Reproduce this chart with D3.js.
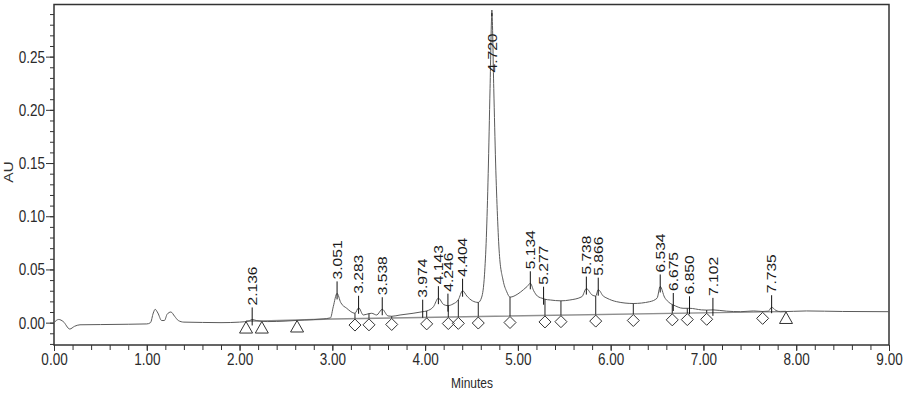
<!DOCTYPE html>
<html><head><meta charset="utf-8">
<script src="https://cdn.jsdelivr.net/npm/d3@7"></script>
<style>
html,body{margin:0;padding:0;background:#fff;}
svg{display:block;font-family:"Liberation Sans",Arial,sans-serif;}
</style></head><body>
<svg id="c" width="912" height="401"></svg>
<script>
// ---- data ----
const traceTime = [0.00,0.05,0.10,0.17,0.22,0.28,0.50,0.80,1.00,1.04,1.07,1.09,1.12,1.16,1.19,1.22,1.26,1.30,1.34,1.40,1.60,1.80,2.00,2.10,2.136,2.18,2.30,2.50,2.70,2.90,2.98,3.01,3.051,3.09,3.155,3.244,3.283,3.334,3.395,3.424,3.478,3.538,3.60,3.64,3.73,3.87,3.974,4.017,4.09,4.143,4.20,4.246,4.30,4.358,4.404,4.45,4.51,4.573,4.61,4.64,4.66,4.68,4.70,4.72,4.74,4.76,4.78,4.80,4.84,4.88,4.915,5.00,5.06,5.10,5.134,5.17,5.21,5.277,5.292,5.35,5.464,5.56,5.69,5.738,5.80,5.839,5.866,5.92,5.96,6.065,6.244,6.42,6.50,6.534,6.58,6.62,6.664,6.675,6.78,6.826,6.85,6.98,7.035,7.102,7.25,7.40,7.54,7.638,7.70,7.735,7.78,7.83,8.11,8.50,9.00];
const traceAU = [0.0000,0.0030,0.0010,-0.0060,-0.0035,-0.0020,-0.0018,-0.0015,-0.0012,0.0000,0.0090,0.0125,0.0090,0.0020,0.0020,0.0080,0.0100,0.0060,0.0020,0.0005,0.0002,0.0000,0.0005,0.0015,0.0030,0.0020,0.0010,0.0015,0.0025,0.0035,0.0045,0.0150,0.0275,0.0190,0.0135,0.0088,0.0140,0.0072,0.0085,0.0088,0.0072,0.0126,0.0063,0.0060,0.0072,0.0088,0.0103,0.0110,0.0150,0.0230,0.0170,0.0160,0.0175,0.0215,0.0300,0.0250,0.0205,0.0190,0.0240,0.0450,0.0800,0.1400,0.2200,0.2910,0.2200,0.1500,0.1000,0.0650,0.0400,0.0290,0.0240,0.0270,0.0310,0.0340,0.0370,0.0300,0.0250,0.0225,0.0220,0.0213,0.0205,0.0213,0.0244,0.0320,0.0260,0.0250,0.0310,0.0250,0.0230,0.0197,0.0180,0.0197,0.0230,0.0340,0.0240,0.0197,0.0170,0.0166,0.0135,0.0135,0.0135,0.0120,0.0118,0.0120,0.0108,0.0103,0.0110,0.0105,0.0108,0.0145,0.0115,0.0103,0.0110,0.0105,0.0103];
const peakLabels = ["2.136","3.051","3.283","3.538","3.974","4.143","4.246","4.404","4.720","5.134","5.277","5.738","5.866","6.534","6.675","6.850","7.102","7.735"];
const dropTimes = [3.244,3.395,3.64,4.017,4.25,4.358,4.573,4.915,5.292,5.464,5.839,6.244,6.664,6.826,7.035,7.638];
const startEndTimes = [2.07,2.24,2.62,7.89];
const baselineTime = [2.07,2.24,2.62,3.00,7.89];
const baselineAU = [0.0015,0.0015,0.0025,0.0035,0.0105];
const xTickValues = [0,1,2,3,4,5,6,7,8,9];
const yTickValues = [0,0.05,0.10,0.15,0.20,0.25];

// ---- layout ----
const L = 54, R = 889, T = 4.5, B = 345;
const svg = d3.select("#c");
const x = d3.scaleLinear().domain([0,9]).range([L,R]);
const y = d3.scaleLinear().domain([-0.021,0.299]).range([B,T]);
const STRETCH = 1.2;

function valueAt(ts, vs, t){
  const i = d3.bisectLeft(ts, t);
  if (i <= 0) return vs[0];
  if (i >= ts.length) return vs[vs.length-1];
  if (Math.abs(ts[i]-t) < 1e-9) return vs[i];
  const t0 = ts[i-1], t1 = ts[i];
  return vs[i-1] + (vs[i]-vs[i-1])*(t-t0)/(t1-t0);
}
const traceAt = t => valueAt(traceTime, traceAU, t);
const baseAt = t => valueAt(baselineTime, baselineAU, t);

// ---- axes ----
const yMinor = d3.range(-2, 30).map(d => d/100);
svg.append("g").attr("transform",`translate(${L},0)`)
  .call(d3.axisLeft(y).tickValues(yMinor).tickSize(4).tickFormat(""))
  .call(g => g.select(".domain").remove())
  .selectAll("line").attr("stroke","#333");
const gy = svg.append("g").attr("transform",`translate(${L},0)`)
  .call(d3.axisLeft(y).tickValues(yTickValues).tickSize(8).tickPadding(1).tickFormat(d3.format(".2f")));
gy.select(".domain").remove();
gy.selectAll("line").attr("stroke","#333");
gy.selectAll("text").attr("font-size",13.5).attr("fill","#2a2a2a")
  .attr("font-family","Liberation Sans, Arial, sans-serif")
  .attr("dy",null).attr("dominant-baseline","central")
  .attr("transform",`scale(1,${STRETCH})`);

const xMinor = d3.range(0, 46).map(d => d/5);
svg.append("g").attr("transform",`translate(0,${B})`)
  .call(d3.axisBottom(x).tickValues(xMinor).tickSize(5).tickFormat(""))
  .call(g => g.select(".domain").remove())
  .selectAll("line").attr("stroke","#333");
const gx = svg.append("g").attr("transform",`translate(0,${B})`)
  .call(d3.axisBottom(x).tickValues(xTickValues).tickSize(6).tickFormat(d3.format(".2f")));
gx.select(".domain").remove();
gx.selectAll("line").attr("stroke","#333");
gx.selectAll("text").attr("font-size",13.5).attr("fill","#2a2a2a")
  .attr("font-family","Liberation Sans, Arial, sans-serif")
  .attr("y", 15/STRETCH).attr("dy",null).attr("dominant-baseline","central")
  .attr("transform",`scale(1,${STRETCH})`);

// frame
svg.append("rect").attr("x",L).attr("y",T).attr("width",R-L).attr("height",B-T)
  .attr("fill","none").attr("stroke","#333").attr("stroke-width",1.5);

// axis titles
svg.append("text").attr("transform",`translate(472,${383}) scale(1,${STRETCH})`)
  .attr("text-anchor","middle").attr("dominant-baseline","central")
  .attr("font-size",12).attr("fill","#2a2a2a").text("Minutes");
svg.append("text").attr("transform",`translate(13,172) rotate(-90) scale(${STRETCH},1)`)
  .attr("text-anchor","middle").attr("font-size",13).attr("fill","#333").text("AU");

// ---- baseline ----
const line = d3.line().x(d => x(d[0])).y(d => y(d[1]));
const smooth = d3.line().x(d => x(d[0])).y(d => y(d[1])).curve(d3.curveMonotoneX);
svg.append("path").datum(baselineTime.map((t,i)=>[t,baselineAU[i]]))
  .attr("d", line).attr("fill","none").attr("stroke","#8f8f8f").attr("stroke-width",1.4);

// ---- trace ----
svg.append("path").datum(traceTime.map((t,i)=>[t,traceAU[i]]))
  .attr("d", smooth).attr("fill","none").attr("stroke","#5a5a5a").attr("stroke-width",1)
  .attr("stroke-linejoin","round");

// drop lines + diamonds
svg.append("g").selectAll("line").data(dropTimes).join("line")
  .attr("x1",d=>x(d)).attr("x2",d=>x(d))
  .attr("y1",d=>y(traceAt(d))).attr("y2",d=>y(baseAt(d)))
  .attr("stroke","#222").attr("stroke-width",1);
svg.append("g").selectAll("path").data(dropTimes).join("path")
  .attr("transform",d=>`translate(${x(d)},${y(baseAt(d))+6.5})`)
  .attr("d","M0,-6L6,0L0,6L-6,0Z")
  .attr("fill","none").attr("stroke","#333").attr("stroke-width",1);

// triangles
svg.append("g").selectAll("path").data(startEndTimes).join("path")
  .attr("transform",d=>`translate(${x(d)},${y(baseAt(d))+0.5})`)
  .attr("d","M0,0L6.5,11.5L-6.5,11.5Z")
  .attr("fill","none").attr("stroke","#333").attr("stroke-width",1);

// ---- peak labels ----
const gl = svg.append("g");
peakLabels.forEach(lbl => {
  const t = parseFloat(lbl);
  const px = x(t), py = y(traceAt(t));
  const textLen = 40;
  let tickTop = py - 12, tickBot = py + 6, textBot = py - 14;
  if (textBot - textLen < T + 4) {
    tickTop = T + 5.5;
    tickBot = py + 3;
    textBot = T + 28 + textLen;
  }
  gl.append("line").attr("x1",px).attr("x2",px).attr("y1",tickTop).attr("y2",tickBot)
    .attr("stroke","#111").attr("stroke-width",1);
  gl.append("text").attr("transform",`translate(${px},${textBot}) rotate(-90) scale(${STRETCH},1)`)
    .attr("dy","0.36em").attr("font-size",13).attr("fill","#1a1a1a").text(lbl);
});
</script>
</body></html>
